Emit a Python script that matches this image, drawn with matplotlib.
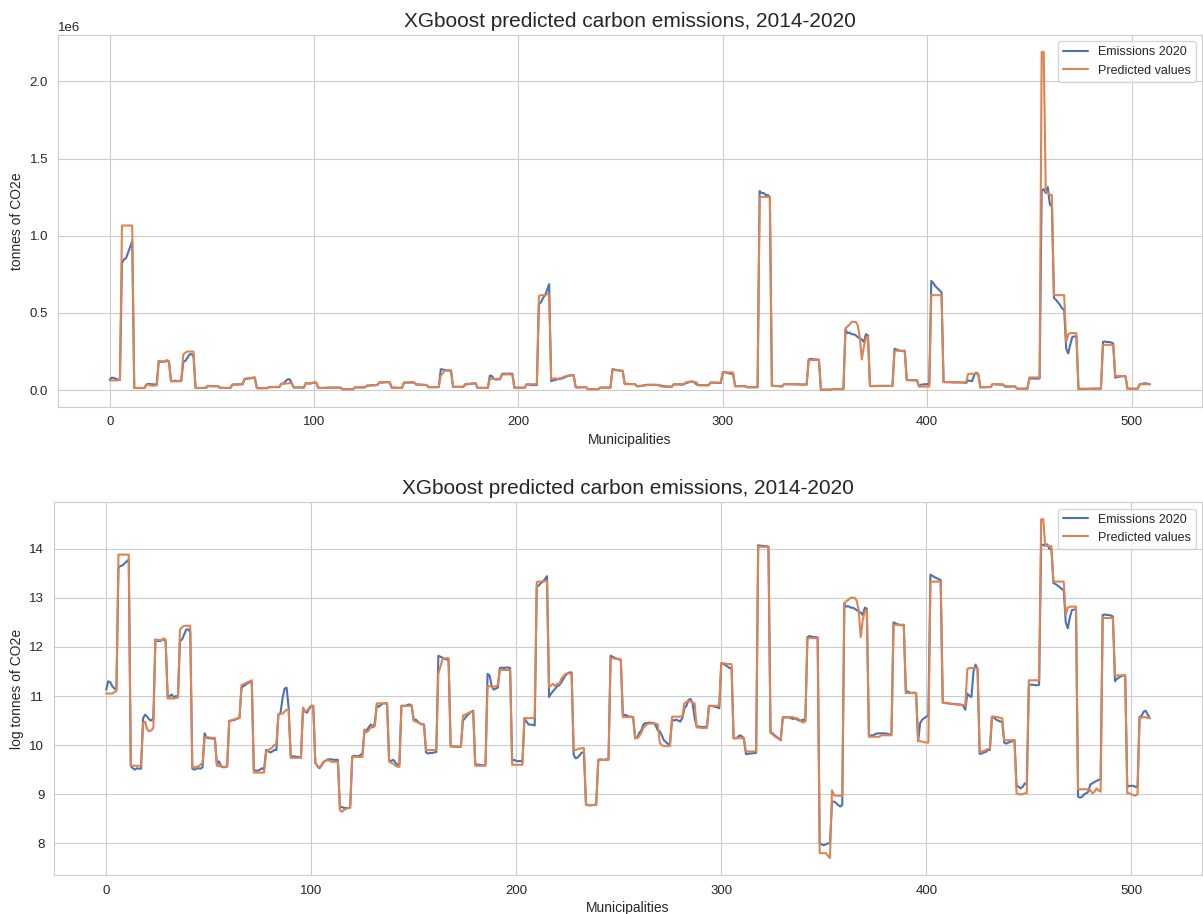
import numpy as np
import matplotlib
matplotlib.use("Agg")
import matplotlib.pyplot as plt
import seaborn as sns

sns.set_style("whitegrid")
plt.rcParams["font.family"] = ["Liberation Sans", "DejaVu Sans"]

BLUE = "#4C72B0"
ORANGE = "#DD8452"
TITLE = "XGboost predicted carbon emissions, 2014-2020"

# log emissions, 85 municipalities x 6 rows
emis_log = [
    [11.13, 11.30, 11.28, 11.20, 11.15, 11.13],
    [13.62, 13.65, 13.66, 13.70, 13.74, 13.78],
    [9.57, 9.53, 9.50, 9.53, 9.52, 9.52],
    [10.55, 10.62, 10.58, 10.52, 10.50, 10.55],
    [12.15, 12.12, 12.12, 12.13, 12.17, 12.10],
    [10.97, 11.00, 11.03, 10.97, 11.00, 10.98],
    [12.12, 12.15, 12.25, 12.35, 12.36, 12.30],
    [9.52, 9.50, 9.52, 9.53, 9.52, 9.55],
    [10.24, 10.15, 10.14, 10.14, 10.13, 10.14],
    [9.60, 9.67, 9.57, 9.55, 9.55, 9.57],
    [10.48, 10.50, 10.51, 10.52, 10.54, 10.55],
    [11.17, 11.20, 11.23, 11.26, 11.28, 11.30],
    [9.50, 9.48, 9.48, 9.50, 9.53, 9.50],
    [9.90, 9.88, 9.85, 9.87, 9.90, 9.90],
    [10.63, 10.65, 10.95, 11.15, 11.17, 10.75],
    [9.78, 9.77, 9.77, 9.76, 9.76, 9.75],
    [10.76, 10.68, 10.66, 10.74, 10.80, 10.80],
    [9.64, 9.57, 9.53, 9.58, 9.66, 9.68],
    [9.71, 9.71, 9.71, 9.70, 9.70, 9.70],
    [8.73, 8.74, 8.72, 8.72, 8.72, 8.73],
    [9.77, 9.78, 9.78, 9.77, 9.80, 9.83],
    [10.30, 10.30, 10.36, 10.42, 10.36, 10.45],
    [10.82, 10.78, 10.82, 10.85, 10.85, 10.85],
    [9.68, 9.68, 9.70, 9.65, 9.60, 9.60],
    [10.80, 10.80, 10.80, 10.82, 10.83, 10.80],
    [10.50, 10.52, 10.48, 10.44, 10.42, 10.42],
    [9.85, 9.83, 9.84, 9.84, 9.85, 9.86],
    [11.82, 11.80, 11.78, 11.75, 11.75, 11.72],
    [9.98, 9.97, 9.97, 9.97, 9.96, 9.97],
    [10.50, 10.55, 10.60, 10.64, 10.68, 10.70],
    [9.62, 9.60, 9.60, 9.59, 9.59, 9.60],
    [11.45, 11.42, 11.20, 11.13, 11.15, 11.17],
    [11.57, 11.58, 11.57, 11.58, 11.58, 11.57],
    [9.68, 9.70, 9.68, 9.67, 9.68, 9.66],
    [10.55, 10.48, 10.42, 10.42, 10.41, 10.40],
    [13.23, 13.25, 13.30, 13.33, 13.38, 13.44],
    [10.98, 11.05, 11.10, 11.15, 11.20, 11.22],
    [11.28, 11.35, 11.42, 11.46, 11.48, 11.48],
    [9.80, 9.73, 9.75, 9.80, 9.85, 9.85],
    [8.80, 8.78, 8.77, 8.78, 8.78, 8.80],
    [9.70, 9.71, 9.70, 9.70, 9.71, 9.72],
    [11.82, 11.80, 11.78, 11.76, 11.75, 11.72],
    [10.60, 10.62, 10.60, 10.58, 10.58, 10.57],
    [10.14, 10.16, 10.25, 10.30, 10.42, 10.45],
    [10.45, 10.46, 10.45, 10.45, 10.40, 10.30],
    [10.28, 10.20, 10.10, 10.06, 10.02, 10.05],
    [10.52, 10.50, 10.52, 10.50, 10.48, 10.55],
    [10.75, 10.80, 10.92, 10.94, 10.85, 10.55],
    [10.38, 10.38, 10.37, 10.37, 10.37, 10.38],
    [10.80, 10.80, 10.79, 10.78, 10.77, 10.75],
    [11.67, 11.66, 11.63, 11.60, 11.57, 11.57],
    [10.14, 10.14, 10.16, 10.20, 10.18, 10.14],
    [9.82, 9.82, 9.83, 9.83, 9.84, 9.84],
    [14.07, 14.06, 14.06, 14.05, 14.05, 14.04],
    [10.27, 10.24, 10.20, 10.17, 10.13, 10.10],
    [10.56, 10.56, 10.57, 10.56, 10.55, 10.53],
    [10.55, 10.52, 10.50, 10.50, 10.52, 10.50],
    [12.20, 12.22, 12.21, 12.20, 12.20, 12.19],
    [8.00, 7.98, 7.96, 7.98, 8.00, 8.00],
    [8.85, 8.85, 8.82, 8.78, 8.75, 8.78],
    [12.88, 12.82, 12.83, 12.80, 12.80, 12.78],
    [12.75, 12.72, 12.70, 12.65, 12.80, 12.78],
    [10.18, 10.20, 10.20, 10.22, 10.24, 10.24],
    [10.24, 10.24, 10.24, 10.23, 10.22, 10.22],
    [12.50, 12.48, 12.46, 12.45, 12.44, 12.45],
    [11.10, 11.09, 11.07, 11.06, 11.07, 11.06],
    [10.08, 10.45, 10.52, 10.55, 10.58, 10.60],
    [13.47, 13.45, 13.42, 13.40, 13.38, 13.36],
    [10.87, 10.86, 10.86, 10.85, 10.84, 10.84],
    [10.84, 10.83, 10.83, 10.82, 10.80, 10.72],
    [11.05, 11.00, 10.98, 11.50, 11.64, 11.55],
    [9.82, 9.83, 9.85, 9.86, 9.90, 9.90],
    [10.58, 10.56, 10.52, 10.50, 10.48, 10.48],
    [10.05, 10.03, 10.05, 10.07, 10.08, 10.10],
    [9.18, 9.15, 9.12, 9.15, 9.22, 9.20],
    [11.22, 11.23, 11.23, 11.22, 11.22, 11.23],
    [14.07, 14.08, 14.06, 14.09, 14.00, 13.99],
    [13.30, 13.28, 13.25, 13.22, 13.18, 13.16],
    [12.50, 12.38, 12.60, 12.75, 12.76, 12.76],
    [8.95, 8.93, 8.95, 9.00, 9.02, 9.05],
    [9.20, 9.22, 9.25, 9.27, 9.29, 9.30],
    [12.65, 12.66, 12.65, 12.65, 12.64, 12.62],
    [11.30, 11.35, 11.38, 11.40, 11.42, 11.42],
    [9.15, 9.17, 9.17, 9.17, 9.15, 9.15],
    [10.57, 10.60, 10.68, 10.70, 10.62, 10.55],
]

# log predictions, same layout
pred_log = [
    [11.05, 11.05, 11.05, 11.05, 11.08, 11.10],
    [13.88, 13.88, 13.88, 13.88, 13.88, 13.88],
    [9.58, 9.58, 9.58, 9.58, 9.58, 9.58],
    [10.45, 10.48, 10.32, 10.28, 10.30, 10.35],
    [12.15, 12.14, 12.14, 12.14, 12.17, 12.15],
    [10.95, 10.95, 10.95, 10.95, 10.96, 10.97],
    [12.35, 12.40, 12.43, 12.43, 12.43, 12.43],
    [9.55, 9.55, 9.55, 9.57, 9.60, 9.64],
    [10.16, 10.16, 10.16, 10.15, 10.15, 10.15],
    [9.58, 9.57, 9.57, 9.56, 9.56, 9.56],
    [10.50, 10.50, 10.52, 10.53, 10.55, 10.55],
    [11.22, 11.24, 11.26, 11.28, 11.30, 11.32],
    [9.44, 9.44, 9.44, 9.44, 9.44, 9.44],
    [9.85, 9.90, 9.92, 9.95, 10.00, 10.02],
    [10.62, 10.64, 10.64, 10.68, 10.72, 10.72],
    [9.74, 9.74, 9.74, 9.74, 9.74, 9.74],
    [10.75, 10.68, 10.70, 10.76, 10.80, 10.80],
    [9.63, 9.58, 9.54, 9.60, 9.65, 9.68],
    [9.70, 9.68, 9.66, 9.66, 9.66, 9.66],
    [8.68, 8.64, 8.68, 8.70, 8.72, 8.72],
    [9.76, 9.76, 9.76, 9.76, 9.76, 9.76],
    [10.32, 10.26, 10.30, 10.36, 10.38, 10.38],
    [10.85, 10.85, 10.85, 10.85, 10.85, 10.85],
    [9.66, 9.64, 9.62, 9.58, 9.56, 9.56],
    [10.80, 10.80, 10.80, 10.80, 10.80, 10.80],
    [10.50, 10.48, 10.46, 10.44, 10.43, 10.42],
    [9.90, 9.90, 9.90, 9.90, 9.90, 9.90],
    [11.45, 11.60, 11.75, 11.76, 11.77, 11.77],
    [9.97, 9.97, 9.97, 9.97, 9.97, 9.97],
    [10.60, 10.62, 10.64, 10.66, 10.68, 10.68],
    [9.58, 9.58, 9.58, 9.58, 9.58, 9.58],
    [11.20, 11.20, 11.19, 11.19, 11.20, 11.22],
    [11.53, 11.53, 11.53, 11.53, 11.53, 11.53],
    [9.60, 9.60, 9.60, 9.60, 9.60, 9.60],
    [10.55, 10.55, 10.55, 10.55, 10.55, 10.56],
    [13.32, 13.33, 13.33, 13.33, 13.34, 13.34],
    [11.18, 11.22, 11.25, 11.20, 11.25, 11.25],
    [11.35, 11.40, 11.45, 11.46, 11.46, 11.45],
    [9.90, 9.90, 9.92, 9.93, 9.94, 9.94],
    [8.78, 8.78, 8.78, 8.78, 8.78, 8.78],
    [9.70, 9.70, 9.70, 9.70, 9.70, 9.70],
    [11.78, 11.77, 11.76, 11.76, 11.75, 11.75],
    [10.57, 10.57, 10.57, 10.57, 10.57, 10.57],
    [10.14, 10.14, 10.18, 10.25, 10.35, 10.40],
    [10.43, 10.44, 10.44, 10.44, 10.44, 10.42],
    [10.05, 10.00, 9.98, 9.98, 9.98, 9.98],
    [10.58, 10.58, 10.58, 10.58, 10.58, 10.58],
    [10.85, 10.88, 10.89, 10.89, 10.87, 10.85],
    [10.36, 10.36, 10.35, 10.35, 10.35, 10.35],
    [10.80, 10.80, 10.80, 10.80, 10.80, 10.80],
    [11.67, 11.67, 11.66, 11.65, 11.65, 11.65],
    [10.14, 10.14, 10.14, 10.14, 10.14, 10.14],
    [9.87, 9.87, 9.87, 9.87, 9.87, 9.87],
    [14.04, 14.04, 14.04, 14.04, 14.04, 14.04],
    [10.25, 10.22, 10.18, 10.15, 10.14, 10.12],
    [10.57, 10.57, 10.57, 10.57, 10.57, 10.57],
    [10.55, 10.55, 10.52, 10.48, 10.46, 10.48],
    [12.18, 12.18, 12.18, 12.18, 12.18, 12.18],
    [7.80, 7.80, 7.80, 7.80, 7.75, 7.70],
    [9.08, 8.98, 8.97, 8.97, 8.97, 8.97],
    [12.90, 12.93, 12.96, 13.00, 13.00, 13.00],
    [12.95, 12.75, 12.20, 12.55, 12.72, 12.76],
    [10.17, 10.17, 10.17, 10.17, 10.17, 10.17],
    [10.20, 10.20, 10.20, 10.20, 10.20, 10.20],
    [12.45, 12.45, 12.45, 12.45, 12.45, 12.45],
    [11.06, 11.06, 11.06, 11.06, 11.06, 11.06],
    [10.08, 10.08, 10.07, 10.06, 10.05, 10.05],
    [13.33, 13.33, 13.33, 13.33, 13.33, 13.33],
    [10.86, 10.86, 10.85, 10.85, 10.84, 10.84],
    [10.83, 10.82, 10.82, 10.82, 10.82, 10.80],
    [11.55, 11.57, 11.57, 11.57, 11.57, 11.57],
    [9.86, 9.87, 9.88, 9.90, 9.92, 9.92],
    [10.58, 10.58, 10.57, 10.57, 10.55, 10.55],
    [10.10, 10.10, 10.10, 10.10, 10.10, 10.10],
    [9.02, 9.00, 9.00, 9.00, 9.02, 9.02],
    [11.32, 11.32, 11.32, 11.32, 11.32, 11.32],
    [14.60, 14.60, 14.07, 14.06, 14.05, 14.05],
    [13.33, 13.33, 13.33, 13.33, 13.33, 13.33],
    [12.65, 12.80, 12.82, 12.82, 12.82, 12.82],
    [9.10, 9.10, 9.10, 9.10, 9.10, 9.10],
    [9.08, 9.02, 9.05, 9.12, 9.08, 9.05],
    [12.59, 12.59, 12.59, 12.59, 12.59, 12.59],
    [11.42, 11.42, 11.42, 11.42, 11.42, 11.42],
    [9.02, 9.02, 9.00, 8.98, 8.97, 9.00],
    [10.56, 10.56, 10.57, 10.57, 10.55, 10.55],
]

emis = np.array(emis_log).ravel()
pred = np.array(pred_log).ravel()
idx = np.arange(len(emis))

W, H = 1203, 914
fig = plt.figure(figsize=(W / 100, H / 100), dpi=100)
ax1 = fig.add_axes([57.7 / W, 1 - 406.7 / H, (1202 - 57.7) / W, (406.7 - 35) / H])
ax2 = fig.add_axes([54 / W, 1 - 875 / H, (1202 - 54) / W, (875 - 502.3) / H])

panels = [(ax1, np.exp(emis), np.exp(pred), "tonnes of CO2e"),
          (ax2, emis, pred, "log tonnes of CO2e")]
for ax, e, p, ylab in panels:
    ax.plot(idx, e, color=BLUE, lw=1.5, label="Emissions 2020")
    ax.plot(idx, p, color=ORANGE, lw=1.5, label="Predicted values")
    ax.set_title(TITLE, fontsize=15, color=".15", pad=6)
    ax.set_xlabel("Municipalities", fontsize=10, color=".15", labelpad=3)
    ax.set_ylabel(ylab, fontsize=10, color=".15")
    ax.tick_params(labelsize=9.5, colors=".15")
    ax.legend(loc="upper right", fontsize=9, frameon=True)
ax1.yaxis.get_offset_text().set_fontsize(9.5)

fig.savefig("out.png", dpi=100)
